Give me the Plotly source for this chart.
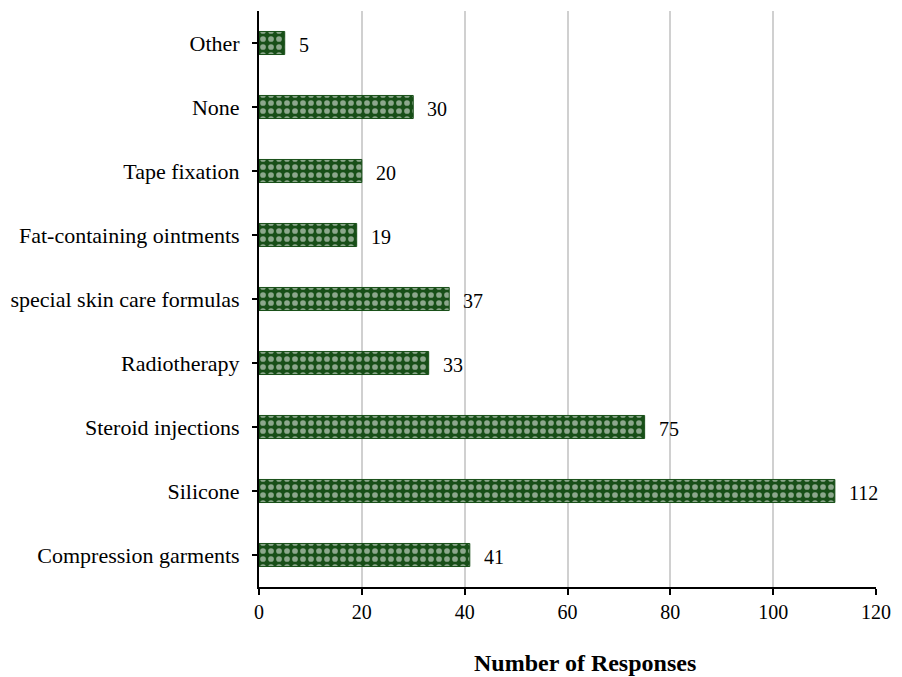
import plotly.graph_objects as go

# Survey: treatments used, number of responses per category
categories = [
    "Compression garments",
    "Silicone",
    "Steroid injections",
    "Radiotherapy",
    "special skin care formulas",
    "Fat-containing ointments",
    "Tape fixation",
    "None",
    "Other",
]
responses = [41, 112, 75, 33, 37, 19, 20, 30, 5]
x_ticks = [0, 20, 40, 60, 80, 100, 120]

GREEN = "#184f18"
FONT = "Liberation Serif, Times New Roman, serif"

fig = go.Figure(
    go.Bar(
        x=responses,
        y=categories,
        orientation="h",
        width=0.36,
        marker=dict(
            color=GREEN,
            line=dict(color=GREEN, width=1),
            pattern=dict(shape=".", fgcolor="white", bgcolor=GREEN,
                         size=8, solidity=0.4, fillmode="overlay"),
        ),
        hoverinfo="skip",
    )
)

# value labels to the right of each bar
for cat, val in zip(categories, responses):
    fig.add_annotation(
        x=val, y=cat, text=str(val), showarrow=False,
        xanchor="left", xshift=12, yshift=-2,
        font=dict(family=FONT, size=20, color="black"),
    )

# x-axis title
fig.add_annotation(
    x=0.5, y=0, xref="paper", yref="paper",
    text="<b>Number of Responses</b>", showarrow=False,
    xanchor="center", yanchor="middle", xshift=17, yshift=-76,
    font=dict(family=FONT, size=24, color="black"),
)

fig.update_layout(
    width=902,
    height=677,
    margin=dict(l=258, r=22, t=11, b=90),
    paper_bgcolor="white",
    plot_bgcolor="white",
    showlegend=False,
    font=dict(family=FONT, size=20, color="black"),
    xaxis=dict(
        range=[0, 120],
        tickvals=x_ticks,
        showgrid=True,
        gridcolor="#d0d0d0",
        gridwidth=1.5,
        zeroline=False,
        showline=True,
        linecolor="black",
        linewidth=2,
        ticks="outside",
        ticklen=6,
        tickwidth=1.5,
        tickcolor="black",
        tickfont=dict(family=FONT, size=20),
    ),
    yaxis=dict(
        range=[-0.5, 8.5],
        showgrid=False,
        showline=True,
        linecolor="black",
        linewidth=2,
        ticks="outside",
        ticklen=5,
        tickwidth=1.5,
        tickcolor="black",
        tickfont=dict(family=FONT, size=22),
        ticklabelstandoff=8,
    ),
)

fig.write_html("out.html")
